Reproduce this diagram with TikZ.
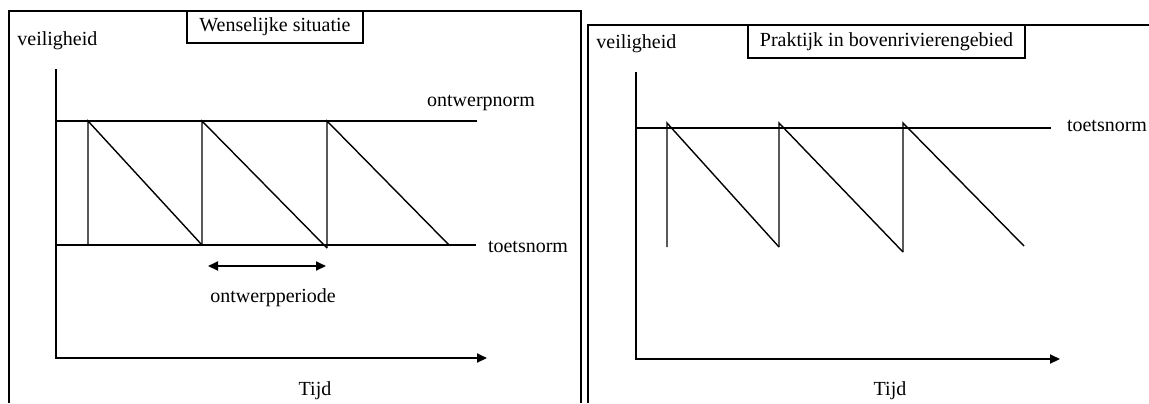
\documentclass[tikz,border=0pt]{standalone}
\usepackage{fontspec}
\setmainfont{Liberation Serif}
\usetikzlibrary{arrows.meta, positioning}

\begin{document}
\begin{tikzpicture}[x=0.5pt, y=-0.5pt,
    kader/.style={line width=0.6pt},
    as/.style={line width=1pt},
    norm/.style={line width=1.4pt},
    zaag/.style={line width=0.7pt},
    titel/.style={draw, line width=0.6pt, inner sep=0pt},
    pijl/.style={-{Triangle[length=5pt, width=4.5pt]}},
    dubbelpijl/.style={{Triangle[length=5pt, width=4.5pt]}-{Triangle[length=5pt, width=4.5pt]}}]
    \useasboundingbox (0,0) rectangle (1149,403);

    % Kaders
    \draw[kader] (9,403) -- (9,11) -- (581,11) -- (581,403);
    \draw[kader] (588,403) -- (588,25) -- (1149,25);

    % Linker grafiek: wenselijke situatie
    \node[titel, minimum width=88pt, minimum height=16pt] (titelL) at (275,27) {Wenselijke situatie};
    \node[anchor=base west, inner sep=0pt] (veilL) at (17,45) {veiligheid};
    \draw[as, pijl] (56,69) -- (56,358) -- (487,358);
    \node (tijdL) at (315,391) {Tijd};

    \draw[norm] (56,121) -- (477,121);
    \draw[norm] (56,245) -- (476,245);
    \node (ontwerpnorm) at (481,103) {ontwerpnorm};
    \node (toetsL) at (528,247) {toetsnorm};

    % Zaagtand tussen ontwerpnorm en toetsnorm
    \foreach \a/\b/\ya/\yb in {88/202/245/245, 202/327/245/248, 327/449/248/245} {
        \draw[zaag] (\a,\ya) -- (\a,121) -- (\b,\yb);
    }

    \draw[as, dubbelpijl] (208,266) -- (326,266);
    \node (periode) at (273,298) {ontwerpperiode};

    % Rechter grafiek: praktijk
    \node[titel, minimum width=138.5pt, minimum height=16.5pt] (titelR) at (886.5,41.5) {Praktijk in bovenrivierengebied};
    \node[anchor=base west, inner sep=0pt] (veilR) at (596,48) {veiligheid};
    \draw[as, pijl] (636,72) -- (636,359) -- (1060,359);
    \node (tijdR) at (890,391) {Tijd};

    \draw[norm] (636,128) -- (1051,128);
    \node (toetsR) at (1107,126) {toetsnorm};

    % Zaagtand onder de toetsnorm
    \foreach \a/\b/\ya/\yb in {667/779/247/247, 779/903/247/252, 903/1024/252/246} {
        \draw[zaag] (\a,\ya) -- (\a,123) -- (\b,\yb);
    }

\end{tikzpicture}
\end{document}
